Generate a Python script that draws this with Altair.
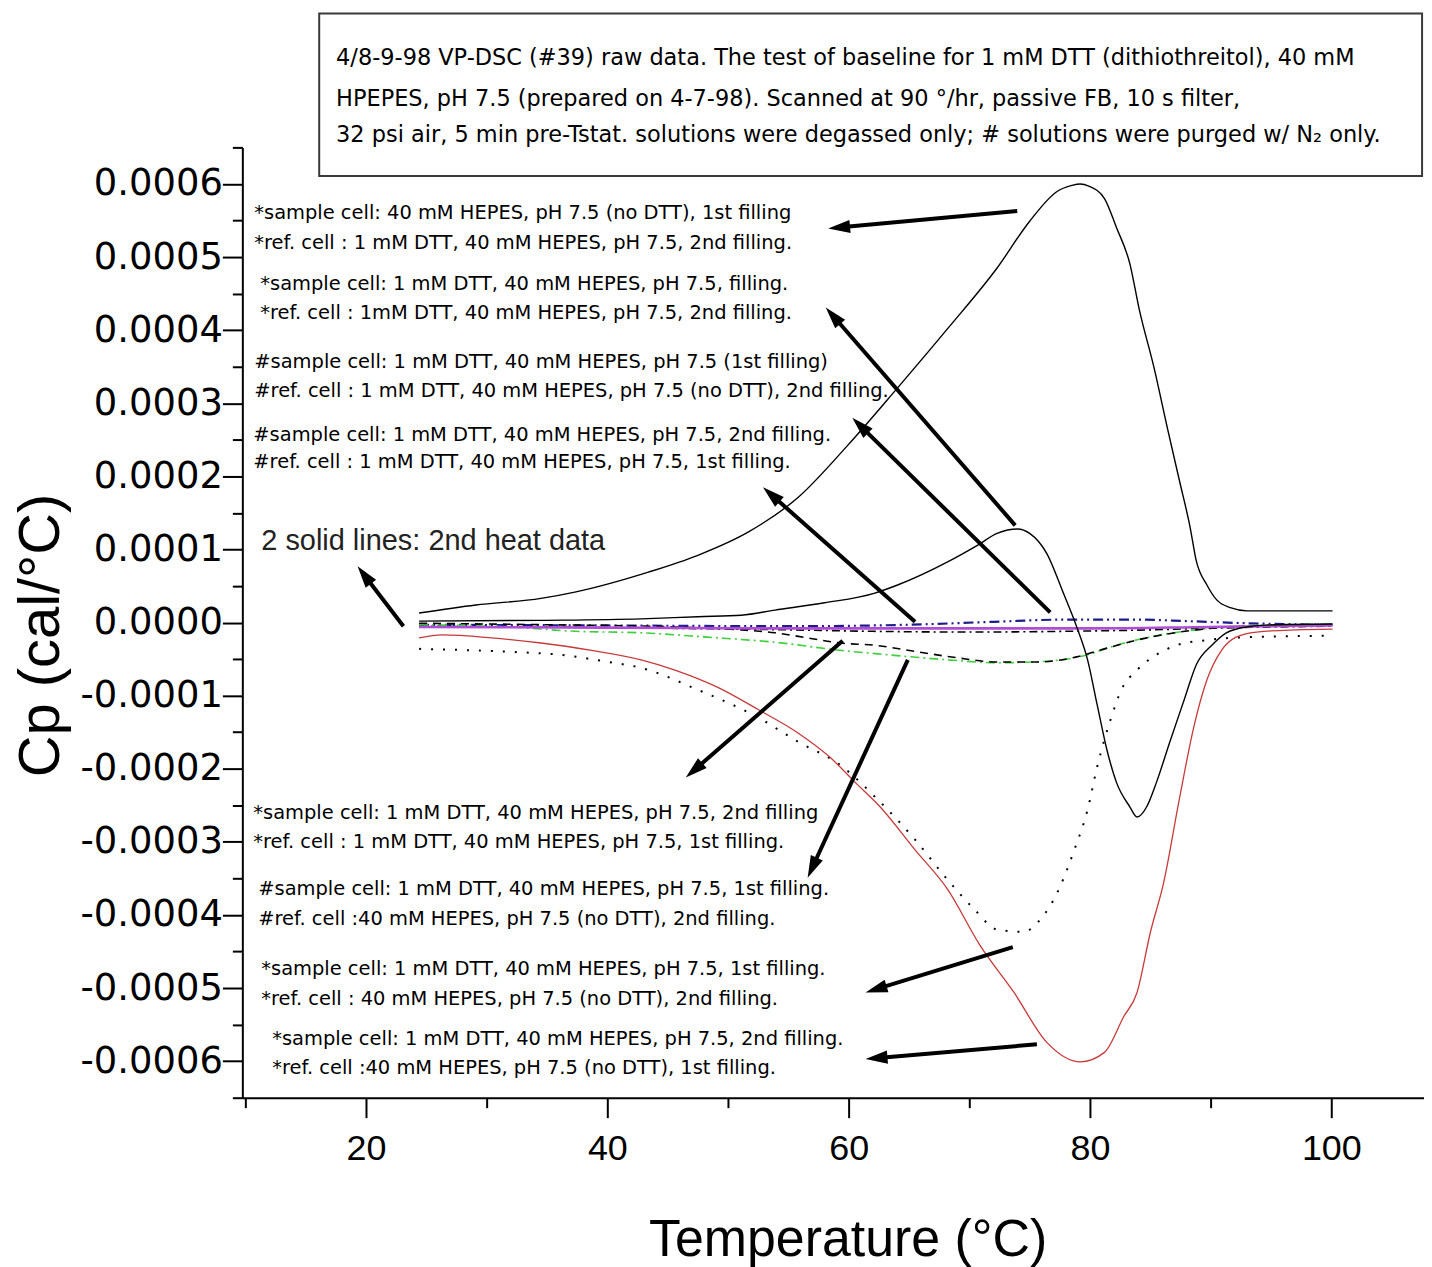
import math
import altair as alt
import pandas as pd

# ---------------- data (x in degC, y in units of 1e-4 cal/degC) ----------------
big_x = [24.4, 29.1, 34.5, 37.4, 43.4, 47.5, 51.7, 55.8, 59.9, 64.0, 68.2, 72.3, 75.0, 77.3, 78.5,
         79.2, 79.9, 81.2, 82.2, 83.3, 84.1, 85.3, 86.4, 87.4, 88.3, 88.8, 89.7, 90.5, 91.7, 93.0, 100.1]
big_y = [0.13, 0.24, 0.33, 0.42, 0.69, 0.92, 1.24, 1.71, 2.42, 3.20, 4.02, 4.85, 5.49, 5.90, 5.98,
         6.00, 5.97, 5.80, 5.40, 4.91, 4.27, 3.49, 2.67, 1.95, 1.30, 0.85, 0.51, 0.31, 0.20, 0.16, 0.16]

mid_x = [24.4, 34.5, 42.8, 47.5, 51.1, 53.9, 58.0, 62.1, 64.0, 68.2, 70.7, 72.3, 74.0, 75.0, 76.4,
         77.8, 78.9, 79.8, 80.6, 81.4, 82.2, 83.3, 83.9, 84.7, 85.5, 86.6, 87.8, 88.8, 90.1, 91.3,
         93.0, 95.5, 100.1]
mid_y = [0.02, 0.03, 0.05, 0.08, 0.10, 0.17, 0.27, 0.40, 0.51, 0.83, 1.06, 1.22, 1.28, 1.22, 0.95,
         0.40, -0.06, -0.51, -1.13, -1.74, -2.19, -2.52, -2.66, -2.52, -2.19, -1.64, -1.06, -0.58,
         -0.31, -0.14, -0.06, -0.03, -0.02]

red_x = [24.4, 26.3, 30.4, 34.5, 38.7, 42.8, 45.6, 49.2, 52.5, 55.8, 58.5, 60.5, 62.6, 65.5, 68.2,
         70.9, 73.7, 76.4, 79.2, 81.2, 82.8, 83.9, 85.0, 86.1, 87.4, 88.6, 89.7, 90.9, 92.1, 93.8,
         97.1, 100.1]
red_y = [-0.21, -0.17, -0.21, -0.28, -0.38, -0.51, -0.65, -0.89, -1.19, -1.51, -1.85, -2.18, -2.52,
         -3.11, -3.65, -4.42, -5.06, -5.74, -6.01, -5.88, -5.39, -5.06, -4.24, -3.56, -2.42, -1.43,
         -0.78, -0.38, -0.20, -0.13, -0.10, -0.09]

dot_x = [24.4, 31.8, 36.0, 40.1, 42.8, 47.5, 52.5, 55.8, 59.3, 62.4, 65.5, 68.2, 70.4, 72.3, 74.5,
         75.9, 77.3, 78.7, 79.8, 80.6, 81.7, 82.6, 83.9, 85.5, 87.2, 89.7, 93.0, 100.1]
dot_y = [-0.36, -0.40, -0.44, -0.54, -0.62, -0.92, -1.30, -1.63, -1.95, -2.42, -2.97, -3.52, -3.92,
         -4.20, -4.23, -4.06, -3.69, -3.11, -2.56, -1.97, -1.33, -0.92, -0.65, -0.44, -0.31, -0.24,
         -0.20, -0.18]

green_x = [24.4, 31.8, 37.4, 42.8, 48.3, 53.9, 59.3, 63.2, 68.2, 72.3, 76.4, 79.8, 82.2, 85.5, 88.8,
           92.1, 100.1]
green_y = [-0.03, -0.06, -0.12, -0.14, -0.20, -0.27, -0.38, -0.44, -0.51, -0.55, -0.53, -0.44,
           -0.31, -0.18, -0.10, -0.05, -0.02]

dash_x = [24.4, 35.0, 45.6, 51.1, 53.9, 56.6, 59.3, 62.1, 65.7, 68.9, 72.3, 75.6, 78.9, 81.4, 84.7,
          88.8, 93.0, 100.1]
dash_y = [-0.01, -0.03, -0.06, -0.10, -0.14, -0.21, -0.28, -0.31, -0.40, -0.48, -0.54, -0.54, -0.47,
          -0.35, -0.21, -0.10, -0.05, -0.03]

purple_x = [24.4, 40.0, 55.0, 70.0, 80.0, 90.0, 100.1]
purple_y = [-0.06, -0.07, -0.08, -0.08, -0.08, -0.06, -0.04]

navy_x = [24.4, 40.0, 55.0, 65.0, 72.0, 78.0, 84.0, 88.0, 93.0, 100.1]
navy_y = [-0.03, -0.04, -0.05, -0.03, 0.01, 0.04, 0.04, 0.02, -0.01, -0.03]

dashdot_x = [24.4, 40.0, 55.0, 62.0, 70.0, 78.0, 85.0, 92.0, 100.1]
dashdot_y = [-0.05, -0.07, -0.10, -0.12, -0.13, -0.12, -0.10, -0.07, -0.05]

# arrows: tail -> head (degC, 1e-4 cal/degC)
arrow_tail_x = [73.97, 73.8, 76.7, 65.5, 23.1, 59.5, 64.9, 73.6, 75.6]
arrow_tail_y = [5.63, 1.33, 0.14, 0.01, -0.05, -0.25, -0.51, -4.44, -5.77]
arrow_head_x = [58.3, 58.1, 60.3, 52.9, 19.3, 46.5, 56.6, 61.4, 61.4]
arrow_head_y = [5.39, 4.31, 2.80, 1.85, 0.77, -2.12, -3.49, -5.06, -5.97]

# annotation lines
ann_text = [
    "*sample cell: 40 mM HEPES, pH 7.5 (no DTT), 1st filling",
    "*ref. cell : 1 mM DTT, 40 mM HEPES, pH 7.5, 2nd filling.",
    "*sample cell: 1 mM DTT, 40 mM HEPES, pH 7.5, filling.",
    "*ref. cell : 1mM DTT, 40 mM HEPES, pH 7.5, 2nd filling.",
    "#sample cell: 1 mM DTT, 40 mM HEPES, pH 7.5 (1st filling)",
    "#ref. cell : 1 mM DTT, 40 mM HEPES, pH 7.5 (no DTT), 2nd filling.",
    "#sample cell: 1 mM DTT, 40 mM HEPES, pH 7.5, 2nd filling.",
    "#ref. cell : 1 mM DTT, 40 mM HEPES, pH 7.5, 1st filling.",
    "*sample cell: 1 mM DTT, 40 mM HEPES, pH 7.5, 2nd filling",
    "*ref. cell : 1 mM DTT, 40 mM HEPES, pH 7.5, 1st filling.",
    "#sample cell: 1 mM DTT, 40 mM HEPES, pH 7.5, 1st filling.",
    "#ref. cell :40 mM HEPES, pH 7.5 (no DTT), 2nd filling.",
    "*sample cell: 1 mM DTT, 40 mM HEPES, pH 7.5, 1st filling.",
    "*ref. cell : 40 mM HEPES, pH 7.5 (no DTT), 2nd filling.",
    "*sample cell: 1 mM DTT, 40 mM HEPES, pH 7.5, 2nd filling.",
    "*ref. cell :40 mM HEPES, pH 7.5 (no DTT), 1st filling.",
]
ann_x = [10.74, 10.74, 11.24, 11.24, 10.74, 10.74, 10.66, 10.66,
         10.66, 10.66, 11.07, 11.07, 11.32, 11.32, 12.23, 12.23]
ann_y = [5.60, 5.19, 4.63, 4.24, 3.57, 3.17, 2.57, 2.19,
         -2.60, -3.00, -3.65, -4.06, -4.74, -5.15, -5.70, -6.10]

note_text = ["2 solid lines: 2nd heat data"]
note_x = [11.32]
note_y = [1.11]

box_lines = [
    "4/8-9-98 VP-DSC (#39) raw data.  The test of baseline for 1 mM DTT (dithiothreitol), 40 mM",
    "HPEPES, pH 7.5 (prepared on 4-7-98). Scanned at 90 \u00b0/hr, passive FB, 10 s filter,",
    "32 psi air, 5 min pre-Tstat. solutions were degassed only; # solutions were purged w/ N\u2082 only.",
]
box_line_x = [17.52, 17.52, 17.52]
box_line_y = [7.72, 7.16, 6.67]
box_x = [16.12, 107.52]
box_y = [6.11, 8.33]

x_major = [20, 40, 60, 80, 100]
x_minor = [10, 30, 50, 70, 90]
y_major = [-6, -5, -4, -3, -2, -1, 0, 1, 2, 3, 4, 5, 6]

# ---------------- layout ----------------
W, H = 1185, 953
X_DOMAIN = [9.75, 107.68]
Y_DOMAIN = [-6.5e-4, 6.5e-4]
U = 1e-4

xscale = alt.Scale(domain=X_DOMAIN, nice=False, zero=False)
yscale = alt.Scale(domain=Y_DOMAIN, nice=False, zero=False)

x_vals = sorted(x_major + x_minor)
y_vals = sorted(set([round(v * U, 6) for v in y_major] +
                    [round((v + 0.5) * U, 6) for v in range(-7, 7)]))

y_major_test = "abs(datum.value*10000 - round(datum.value*10000)) < 0.001"

xaxis = alt.Axis(
    title="Temperature (\u00b0C)", values=x_vals, grid=False,
    labelExpr="datum.value % 20 == 0 ? datum.value : ''",
    tickSize={"condition": {"test": "datum.value % 20 == 0", "value": 20}, "value": 10},
    tickWidth=2, tickColor="black", domainColor="black", domainWidth=2,
    labelFont="Liberation Sans", labelFontSize=36, labelColor="black", labelPadding=14,
    labelOverlap=False, labelFlush=False,
    titleFont="Liberation Sans", titleFontSize=52, titleFontWeight="normal", titleColor="black",
    titleX=607, titleY=158, titleBaseline="alphabetic", titleAlign="center",
)
yaxis = alt.Axis(
    title="Cp (cal/\u00b0C)", values=y_vals, grid=False,
    labelExpr=y_major_test + " ? replace(format(datum.value, '.4f'), '\u2212', '-') : ''",
    tickSize={"condition": {"test": y_major_test, "value": 20}, "value": 10},
    tickWidth=2, tickColor="black", domainColor="black", domainWidth=2,
    labelFont="DejaVu Sans", labelFontSize=37, labelColor="black", labelPadding=0,
    labelOverlap=False, labelFlush=False,
    titleFont="Liberation Sans", titleFontSize=58, titleFontWeight="normal", titleColor="black",
    titleX=-201, titleY=489, titleBaseline="middle", titleAlign="center", titleAngle=270,
)

X = lambda f="T": alt.X(f"{f}:Q", scale=xscale, axis=xaxis)
Y = lambda f="Cp": alt.Y(f"{f}:Q", scale=yscale, axis=yaxis)

layers = []

# annotation box (behind everything)
box_df = pd.DataFrame({"T": [box_x[0]], "T2": [box_x[1]], "Cp": [box_y[0] * U], "Cp2": [box_y[1] * U]})
layers.append(alt.Chart(box_df).mark_rect(fill="white", stroke="#3a3a3a", strokeWidth=2).encode(
    x=X(), x2="T2:Q", y=Y(), y2="Cp2:Q"))

series = [
    ("navy", navy_x, navy_y, "#1c1c8a", 2.2, [10, 4, 2, 4, 2, 4]),
    ("dashdot", dashdot_x, dashdot_y, "#000000", 1.6, [8, 4, 2, 4]),
    ("green", green_x, green_y, "#3fcf3f", 1.6, [9, 4, 2, 4]),
    ("dashed", dash_x, dash_y, "#000000", 1.6, [8, 6]),
    ("dotted", dot_x, dot_y, "#000000", 2.0, [2, 10]),
    ("purple", purple_x, purple_y, "#b04cd6", 2.6, None),
    ("red", red_x, red_y, "#c83a3a", 1.3, None),
    ("mid", mid_x, mid_y, "#000000", 1.4, None),
    ("big", big_x, big_y, "#000000", 1.4, None),
]
for name, xs, ys, color, w, dash in series:
    df = pd.DataFrame({"T": xs, "Cp": [v * U for v in ys], "i": list(range(len(xs)))})
    kw = dict(color=color, strokeWidth=w, interpolate="monotone", strokeCap="butt")
    if dash:
        kw["strokeDash"] = dash
    layers.append(alt.Chart(df).mark_line(**kw).encode(x=X(), y=Y(), order="i:Q"))

# arrows
sx = W / (X_DOMAIN[1] - X_DOMAIN[0])
sy = H / ((Y_DOMAIN[1] - Y_DOMAIN[0]) / U)
HEAD_LEN = 22.0
rows = []
for tx, ty, hx, hy in zip(arrow_tail_x, arrow_tail_y, arrow_head_x, arrow_head_y):
    dxp = (hx - tx) * sx
    dyp = -(hy - ty) * sy
    L = math.hypot(dxp, dyp)
    ang = math.degrees(math.atan2(dxp, -dyp)) % 360
    f = (L - HEAD_LEN * 0.7) / L
    ex = tx + (hx - tx) * f
    ey = ty + (hy - ty) * f
    rows.append({"T": tx, "Cp": ty * U, "T2": ex, "Cp2": ey * U,
                 "hx": hx, "hy": hy * U, "ang": ang})
arr_df = pd.DataFrame(rows)
layers.append(alt.Chart(arr_df).mark_rule(color="black", strokeWidth=4, strokeCap="butt").encode(
    x=X(), y=Y(), x2="T2:Q", y2="Cp2:Q"))
head_df = arr_df[["hx", "hy", "ang"]].rename(columns={"hx": "T", "hy": "Cp"})
layers.append(alt.Chart(head_df).mark_point(
    shape="M0,0 L0.45,1.5 L-0.45,1.5 Z", filled=True, color="black", opacity=1,
    size=(HEAD_LEN / 1.5 * 2) ** 2, strokeWidth=0).encode(
    x=X(), y=Y(), angle=alt.Angle("ang:Q", scale=None)))

# text annotations
ann_df = pd.DataFrame({"T": ann_x, "Cp": [v * U for v in ann_y], "txt": ann_text})
layers.append(alt.Chart(ann_df).mark_text(
    align="left", baseline="middle", font="DejaVu Sans", fontSize=19.5, color="black").encode(
    x=X(), y=Y(), text="txt:N"))

note_df = pd.DataFrame({"T": note_x, "Cp": [v * U for v in note_y], "txt": note_text})
layers.append(alt.Chart(note_df).mark_text(
    align="left", baseline="middle", font="Liberation Sans", fontSize=29, color="#222222").encode(
    x=X(), y=Y(), text="txt:N"))

box_txt_df = pd.DataFrame({"T": box_line_x, "Cp": [v * U for v in box_line_y], "txt": box_lines})
layers.append(alt.Chart(box_txt_df).mark_text(
    align="left", baseline="middle", font="DejaVu Sans", fontSize=22.5, color="black").encode(
    x=X(), y=Y(), text="txt:N"))

chart = alt.layer(*layers).properties(
    width=W, height=H,
    autosize=alt.AutoSizeParams(type="none"),
    padding={"left": 235, "top": 138, "right": 0, "bottom": 168},
    background="white",
).configure_view(stroke=None)

chart.save("out.html", embed_options={"renderer": "svg", "actions": False})
